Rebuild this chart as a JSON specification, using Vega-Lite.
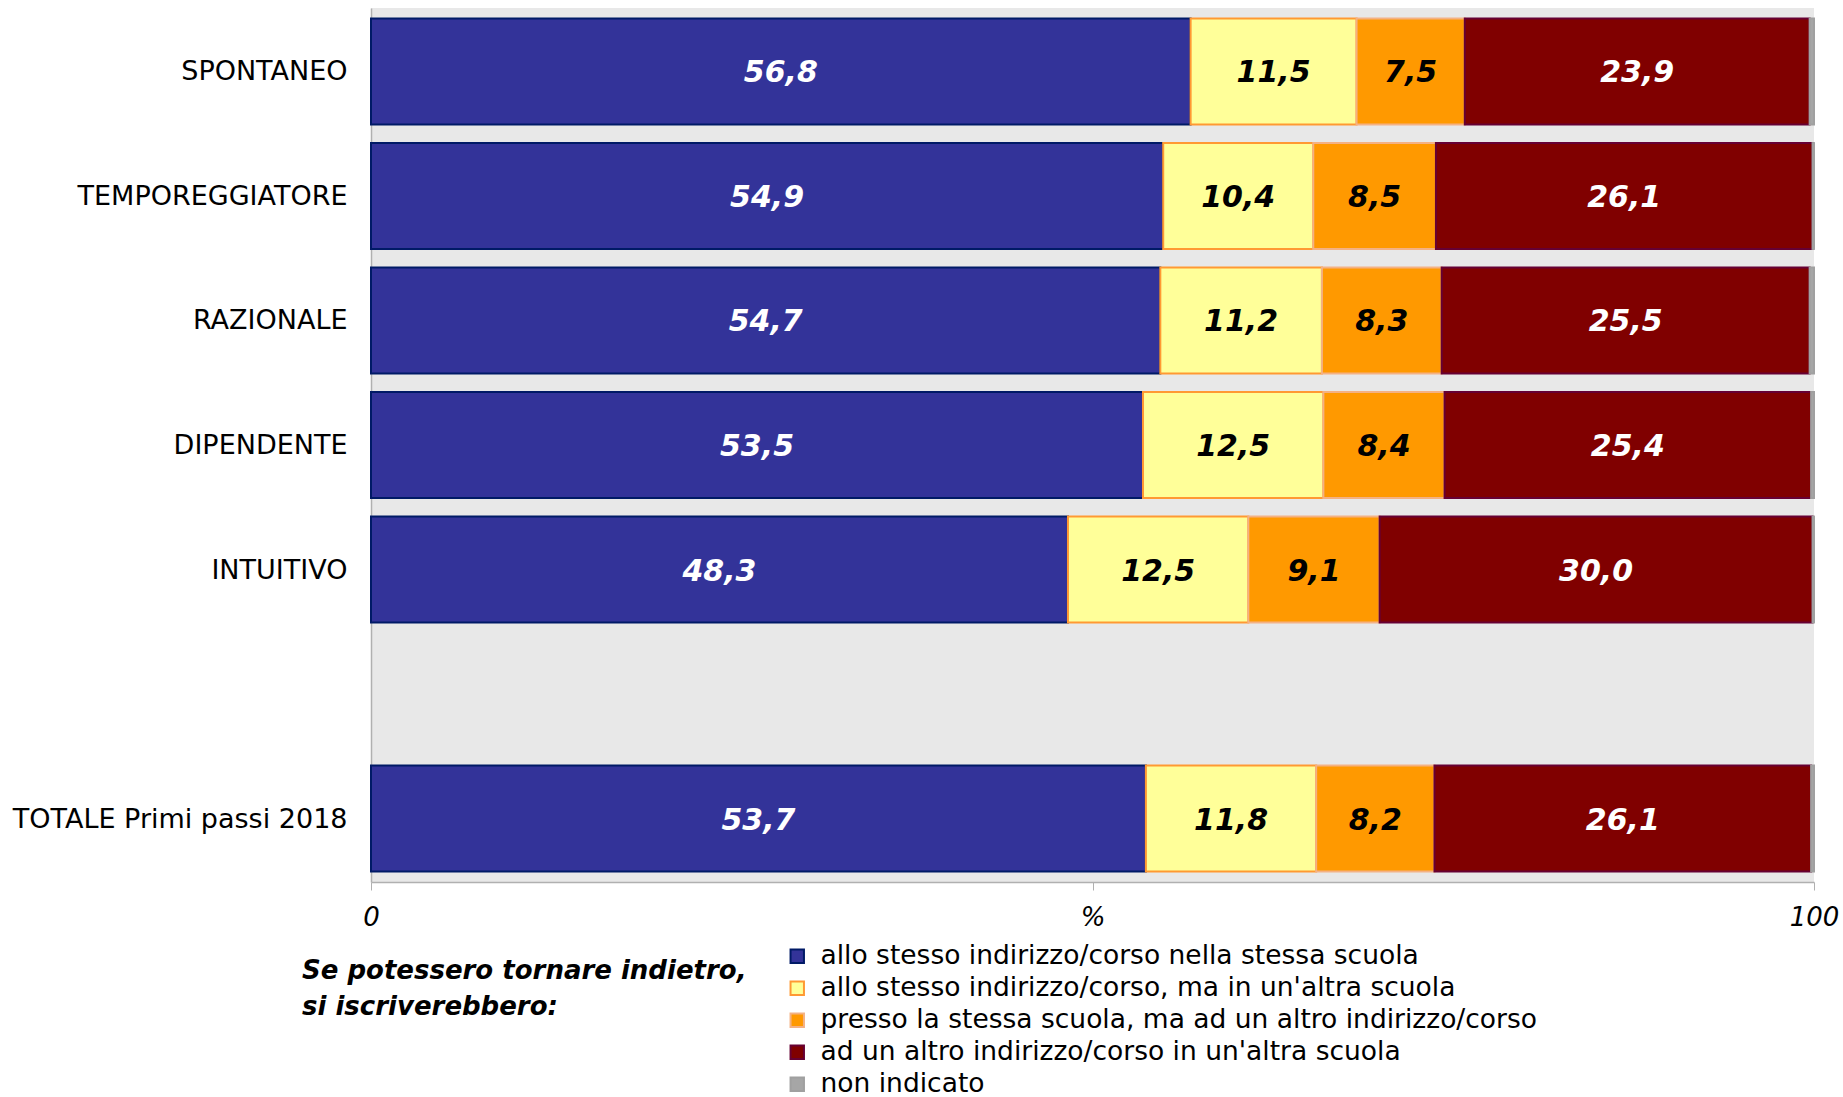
{
  "$schema": "https://vega.github.io/schema/vega-lite/v6.json",
  "width": 1443,
  "height": 874,
  "autosize": {"type": "none"},
  "padding": {"left": 371, "top": 8, "right": 29, "bottom": 215},
  "background": "white",
  "config": {
    "font": "DejaVu Sans",
    "view": {"fill": "#e8e8e8", "stroke": null},
    "locale": {"number": {"decimal": ",", "thousands": ".", "grouping": [3], "currency": ["€", ""]}}
  },
  "data": {
    "values": [
      {"profilo": "SPONTANEO", "risposta": "allo stesso indirizzo/corso nella stessa scuola", "pct": 56.8},
      {"profilo": "SPONTANEO", "risposta": "allo stesso indirizzo/corso, ma in un'altra scuola", "pct": 11.5},
      {"profilo": "SPONTANEO", "risposta": "presso la stessa scuola, ma ad un altro indirizzo/corso", "pct": 7.5},
      {"profilo": "SPONTANEO", "risposta": "ad un altro indirizzo/corso in un'altra scuola", "pct": 23.9},
      {"profilo": "SPONTANEO", "risposta": "non indicato", "pct": 0.3},
      {"profilo": "TEMPOREGGIATORE", "risposta": "allo stesso indirizzo/corso nella stessa scuola", "pct": 54.9},
      {"profilo": "TEMPOREGGIATORE", "risposta": "allo stesso indirizzo/corso, ma in un'altra scuola", "pct": 10.4},
      {"profilo": "TEMPOREGGIATORE", "risposta": "presso la stessa scuola, ma ad un altro indirizzo/corso", "pct": 8.5},
      {"profilo": "TEMPOREGGIATORE", "risposta": "ad un altro indirizzo/corso in un'altra scuola", "pct": 26.1},
      {"profilo": "TEMPOREGGIATORE", "risposta": "non indicato", "pct": 0.1},
      {"profilo": "RAZIONALE", "risposta": "allo stesso indirizzo/corso nella stessa scuola", "pct": 54.7},
      {"profilo": "RAZIONALE", "risposta": "allo stesso indirizzo/corso, ma in un'altra scuola", "pct": 11.2},
      {"profilo": "RAZIONALE", "risposta": "presso la stessa scuola, ma ad un altro indirizzo/corso", "pct": 8.3},
      {"profilo": "RAZIONALE", "risposta": "ad un altro indirizzo/corso in un'altra scuola", "pct": 25.5},
      {"profilo": "RAZIONALE", "risposta": "non indicato", "pct": 0.3},
      {"profilo": "DIPENDENTE", "risposta": "allo stesso indirizzo/corso nella stessa scuola", "pct": 53.5},
      {"profilo": "DIPENDENTE", "risposta": "allo stesso indirizzo/corso, ma in un'altra scuola", "pct": 12.5},
      {"profilo": "DIPENDENTE", "risposta": "presso la stessa scuola, ma ad un altro indirizzo/corso", "pct": 8.4},
      {"profilo": "DIPENDENTE", "risposta": "ad un altro indirizzo/corso in un'altra scuola", "pct": 25.4},
      {"profilo": "DIPENDENTE", "risposta": "non indicato", "pct": 0.2},
      {"profilo": "INTUITIVO", "risposta": "allo stesso indirizzo/corso nella stessa scuola", "pct": 48.3},
      {"profilo": "INTUITIVO", "risposta": "allo stesso indirizzo/corso, ma in un'altra scuola", "pct": 12.5},
      {"profilo": "INTUITIVO", "risposta": "presso la stessa scuola, ma ad un altro indirizzo/corso", "pct": 9.1},
      {"profilo": "INTUITIVO", "risposta": "ad un altro indirizzo/corso in un'altra scuola", "pct": 30.0},
      {"profilo": "INTUITIVO", "risposta": "non indicato", "pct": 0.1},
      {"profilo": "TOTALE Primi passi 2018", "risposta": "allo stesso indirizzo/corso nella stessa scuola", "pct": 53.7},
      {"profilo": "TOTALE Primi passi 2018", "risposta": "allo stesso indirizzo/corso, ma in un'altra scuola", "pct": 11.8},
      {"profilo": "TOTALE Primi passi 2018", "risposta": "presso la stessa scuola, ma ad un altro indirizzo/corso", "pct": 8.2},
      {"profilo": "TOTALE Primi passi 2018", "risposta": "ad un altro indirizzo/corso in un'altra scuola", "pct": 26.1},
      {"profilo": "TOTALE Primi passi 2018", "risposta": "non indicato", "pct": 0.2}
    ]
  },
  "transform": [
    {"calculate": "indexof(['allo stesso indirizzo/corso nella stessa scuola', 'allo stesso indirizzo/corso, ma in un\\'altra scuola', 'presso la stessa scuola, ma ad un altro indirizzo/corso', 'ad un altro indirizzo/corso in un\\'altra scuola', 'non indicato'], datum.risposta)", "as": "ordine"}
  ],
  "encoding": {
    "y": {
      "field": "profilo",
      "type": "nominal",
      "title": null,
      "scale": {
        "domain": ["SPONTANEO", "TEMPOREGGIATORE", "RAZIONALE", "DIPENDENTE", "INTUITIVO", " ", "TOTALE Primi passi 2018"],
        "paddingInner": 0.15,
        "paddingOuter": 0.085
      },
      "axis": {
        "ticks": false,
        "domain": true,
        "domainColor": "#b0b0b0",
        "domainWidth": 1.5,
        "labelFontSize": 27,
        "labelColor": "#000000",
        "labelPadding": 24,
        "labelLimit": 500,
        "labelOffset": 1
      }
    },
    "order": {"field": "ordine", "type": "quantitative", "sort": "ascending"}
  },
  "layer": [
    {
      "mark": {"type": "bar", "strokeWidth": 2},
      "encoding": {
        "x": {
          "field": "pct",
          "type": "quantitative",
          "stack": "zero",
          "title": null,
          "scale": {"domain": [0, 100], "nice": false},
          "axis": {
            "values": [0, 50, 100],
            "labelExpr": "datum.value == 50 ? '%' : datum.label",
            "grid": false,
            "domainColor": "#b0b0b0",
            "domainWidth": 1.5,
            "tickColor": "#b0b0b0",
            "tickSize": 8,
            "labelFontSize": 26,
            "labelFontStyle": "italic",
            "labelColor": "#000000",
            "labelPadding": 14,
            "labelFlush": false
          }
        },
        "fill": {
          "field": "risposta",
          "type": "nominal",
          "scale": {
            "domain": ["allo stesso indirizzo/corso nella stessa scuola", "allo stesso indirizzo/corso, ma in un'altra scuola", "presso la stessa scuola, ma ad un altro indirizzo/corso", "ad un altro indirizzo/corso in un'altra scuola", "non indicato"],
            "range": ["#333399", "#ffff99", "#ff9900", "#800000", "#a6a6a6"]
          },
          "legend": {
            "title": ["", "Se potessero tornare indietro,", "si iscriverebbero:"],
            "orient": "none",
            "legendX": -69,
            "legendY": 935,
            "titleOrient": "left",
            "titleAnchor": "start",
            "titleBaseline": "alphabetic",
            "titleFontSize": 26,
            "titleFontWeight": "bold",
            "titleFontStyle": "italic",
            "titleColor": "#000000",
            "titleLineHeight": 36,
            "titlePadding": 37,
            "titleLimit": 600,
            "symbolType": "square",
            "symbolSize": 180,
            "symbolStrokeWidth": 2,
            "labelFontSize": 26.5,
            "labelColor": "#000000",
            "labelOffset": 10,
            "labelLimit": 800,
            "rowPadding": 5
          }
        },
        "stroke": {
          "field": "risposta",
          "type": "nominal",
          "scale": {
            "domain": ["allo stesso indirizzo/corso nella stessa scuola", "allo stesso indirizzo/corso, ma in un'altra scuola", "presso la stessa scuola, ma ad un altro indirizzo/corso", "ad un altro indirizzo/corso in un'altra scuola", "non indicato"],
            "range": ["#001a66", "#ff9933", "#f4b183", "#660033", "#a0a0a0"]
          },
          "legend": {
            "title": ["", "Se potessero tornare indietro,", "si iscriverebbero:"],
            "orient": "none",
            "legendX": -69,
            "legendY": 935,
            "titleOrient": "left",
            "titleAnchor": "start",
            "titleBaseline": "alphabetic",
            "titleFontSize": 26,
            "titleFontWeight": "bold",
            "titleFontStyle": "italic",
            "titleColor": "#000000",
            "titleLineHeight": 36,
            "titlePadding": 37,
            "titleLimit": 600,
            "symbolType": "square",
            "symbolSize": 180,
            "symbolStrokeWidth": 2,
            "labelFontSize": 26.5,
            "labelColor": "#000000",
            "labelOffset": 10,
            "labelLimit": 800,
            "rowPadding": 5
          }
        }
      }
    },
    {
      "transform": [{"filter": "datum.risposta != 'non indicato'"}],
      "mark": {"type": "text", "fontSize": 30, "fontWeight": "bold", "fontStyle": "italic", "baseline": "middle", "align": "center", "dy": 2},
      "encoding": {
        "x": {"field": "pct", "type": "quantitative", "stack": "zero", "bandPosition": 0.5},
        "detail": {"field": "risposta", "type": "nominal"},
        "text": {"field": "pct", "type": "quantitative", "format": ".1f"},
        "color": {
          "condition": {"test": "datum.ordine == 0 || datum.ordine == 3", "value": "#ffffff"},
          "value": "#000000"
        }
      }
    }
  ]
}
